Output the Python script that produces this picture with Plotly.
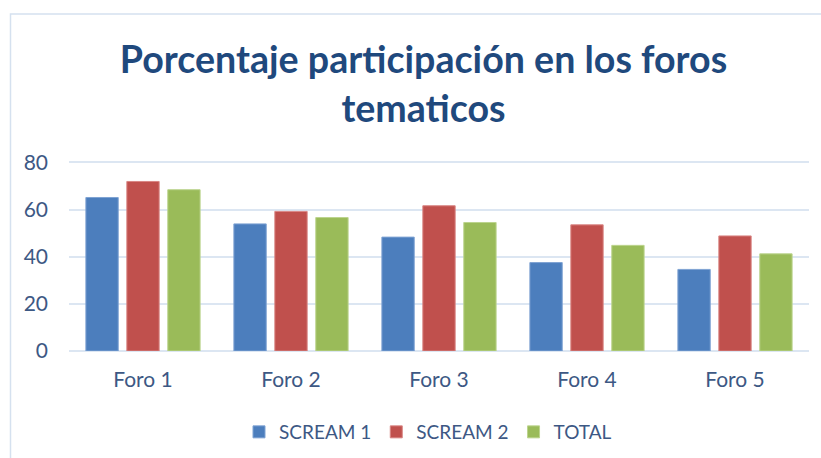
import plotly.graph_objects as go

categories = ["Foro 1", "Foro 2", "Foro 3", "Foro 4", "Foro 5"]
scream1 = [65.1, 53.9, 48.3, 37.5, 34.6]
scream2 = [71.9, 59.2, 61.6, 53.5, 48.8]
total = [68.4, 56.6, 54.5, 44.8, 41.2]
series_names = ["SCREAM 1", "SCREAM 2", "TOTAL"]
title_lines = ["Porcentaje participación en los foros", "tematicos"]
y_ticks = [0, 20, 40, 60, 80]

fill_colors = ["#4C7EBD", "#C0504D", "#9ABB59"]
edge_colors = ["#7FA3D3", "#D98684", "#BCD48E"]
text_color = "#3D5884"
grid_color = "#DCE6F2"

W, H = 821, 458
ML, MR, MT, MB = 69, 12, 160, 107
PW, PH = W - ML - MR, H - MT - MB

fig = go.Figure()
for name, vals, fc, ec in zip(series_names, [scream1, scream2, total], fill_colors, edge_colors):
    fig.add_trace(go.Bar(
        x=categories, y=vals, name=name,
        marker=dict(color=fc, line=dict(color=ec, width=1)),
    ))

fig.update_layout(
    width=W, height=H,
    margin=dict(l=ML, r=MR, t=MT, b=MB, autoexpand=False),
    paper_bgcolor="white", plot_bgcolor="white",
    barmode="group", bargap=0.17, bargroupgap=0.21,
    font=dict(family="Lato", size=21, color=text_color),
    title=dict(
        text="<b>" + title_lines[0] + "<br>" + title_lines[1] + "</b>",
        x=423.5 / W, xanchor="center", xref="container",
        y=1 - 73 / H, yanchor="top", yref="container",
        font=dict(family="Lato", size=37.6, color="#1F497D"),
    ),
    showlegend=True,
    legend=dict(
        orientation="h", x=428 / W, xref="container", xanchor="center",
        y=1 - 432 / H, yref="container", yanchor="middle",
        font=dict(family="Lato", size=19, color=text_color),
        traceorder="normal", itemwidth=30,
    ),
    xaxis=dict(showgrid=False, showline=False, ticks="", ticklabelstandoff=14),
    yaxis=dict(
        range=[0, 81], tickvals=y_ticks, showgrid=True, gridcolor=grid_color,
        gridwidth=1.5, zeroline=True, zerolinecolor=grid_color, zerolinewidth=1.5,
        showline=False, ticks="", ticklabelstandoff=20,
    ),
    shapes=[dict(
        type="rect", xref="paper", yref="paper",
        x0=(10.5 - ML) / PW, x1=1.5,
        y0=-1.5, y1=1 + (MT - 14) / PH,
        line=dict(color="#D5E1EF", width=1.5), layer="below",
    )],
)

fig.write_html(
    "out.html",
    config={"displayModeBar": False},
    post_script="document.body.style.margin='0';",
)
